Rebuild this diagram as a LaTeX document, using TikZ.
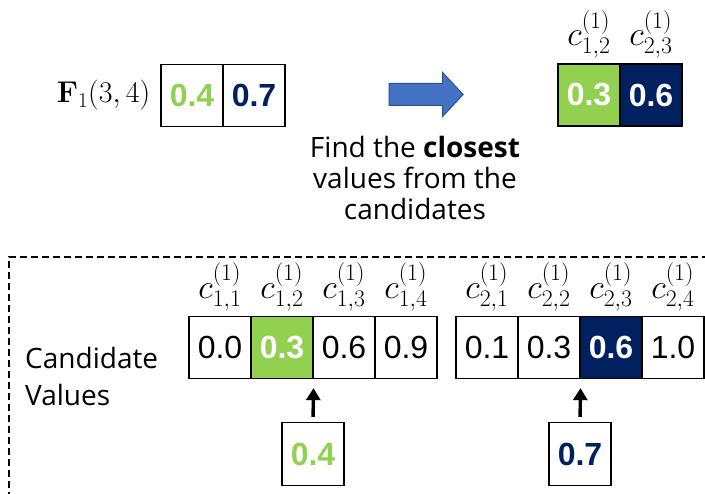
\RequirePackage{fix-cm}
\documentclass[tikz,border=0pt]{standalone}
\usepackage{amsmath}
\usepackage[no-math]{fontspec}
\setmainfont{Open Sans}
\newfontfamily\numfont{Liberation Sans}
\usetikzlibrary{arrows.meta,positioning,shapes.arrows}
\definecolor{pickA}{HTML}{92D050}
\definecolor{pickB}{HTML}{002060}
\definecolor{flow}{HTML}{4472C4}
\definecolor{flowedge}{HTML}{2F528F}

\begin{document}
\begin{tikzpicture}[x=1pt, y=1pt,
    cell/.style={draw, line width=1.3pt, minimum width=62pt, minimum height=62pt, inner sep=0pt, font=\fontsize{32}{36}\selectfont\numfont},
    tag/.style={inner sep=0pt, font=\fontsize{34}{36}\selectfont},
    prose/.style={inner sep=0pt, align=center, font=\fontsize{28}{31}\selectfont},
    pointer/.style={-{Triangle[length=12pt,width=14pt]}, line width=3.4pt, shorten <=5pt, shorten >=9pt}]
  \useasboundingbox (0,0) rectangle (705,494);

  % input feature and its two values
  \node[cell] (in1) at (192,398.5) {\bfseries\color{pickA}0.4};
  \node[cell] (in2) at (254,398.5) {\bfseries\color{pickB}0.7};
  \node[left=10pt of in1, inner sep=0pt, font=\fontsize{30}{36}\selectfont] (feat) {$\mathbf{F}_1(3,4)$};

  \node[single arrow, draw=flowedge, fill=flow, line width=1pt, minimum height=74pt, minimum width=43pt,
        inner sep=0pt, inner ysep=10.5pt, single arrow head extend=11pt, single arrow tip angle=94] (move) at (421,399.5) {};

  % chosen values
  \node[cell, fill=pickA, text=white] (r1) at (589,399) {\bfseries 0.3};
  \node[cell, fill=pickB, text=white] (r2) at (651,399) {\bfseries 0.6};
  \node[tag, above=5pt of r1] (tr1) {$c_{1,2}^{(1)}$};
  \node[tag, above=5pt of r2] (tr2) {$c_{2,3}^{(1)}$};

  \node[prose] (note) at (415,316) {Find the \textbf{closest}\\values from the\\candidates};

  % candidate frame
  \draw[line width=1.5pt, dash pattern=on 7pt off 4pt] (9,-5) |- (712,237);
  \node[prose, align=left, anchor=west, font=\fontsize{28}{37}\selectfont] (cand) at (25,117.5) {Candidate\\Values};

  \foreach \k/\x/\v/\f/\t/\w in {1/220/0.0/white/black/\mdseries, 2/282/0.3/pickA/white/\bfseries, 3/344/0.6/white/black/\mdseries, 4/406/0.9/white/black/\mdseries}{
    \node[cell, fill=\f, text=\t] (a\k) at (\x,146.5) {\w\v};
    \node[tag, above=5pt of a\k] (ta\k) {$c_{1,\k}^{(1)}$};
  }
  \foreach \k/\x/\v/\f/\t/\w in {1/487/0.1/white/black/\mdseries, 2/549/0.3/white/black/\mdseries, 3/611/0.6/pickB/white/\bfseries, 4/673/1.0/white/black/\mdseries}{
    \node[cell, fill=\f, text=\t] (b\k) at (\x,146.5) {\w\v};
    \node[tag, above=5pt of b\k] (tb\k) {$c_{2,\k}^{(1)}$};
  }

  % queries
  \node[cell, minimum height=63pt, text=pickA] (q1) at (313,40) {\bfseries 0.4};
  \node[cell, minimum height=63pt, text=pickB] (q2) at (580,40) {\bfseries 0.7};
  \draw[pointer] (q1.north) -- (a2.south east);
  \draw[pointer] (q2.north) -- (b2.south east);
\end{tikzpicture}
\end{document}
